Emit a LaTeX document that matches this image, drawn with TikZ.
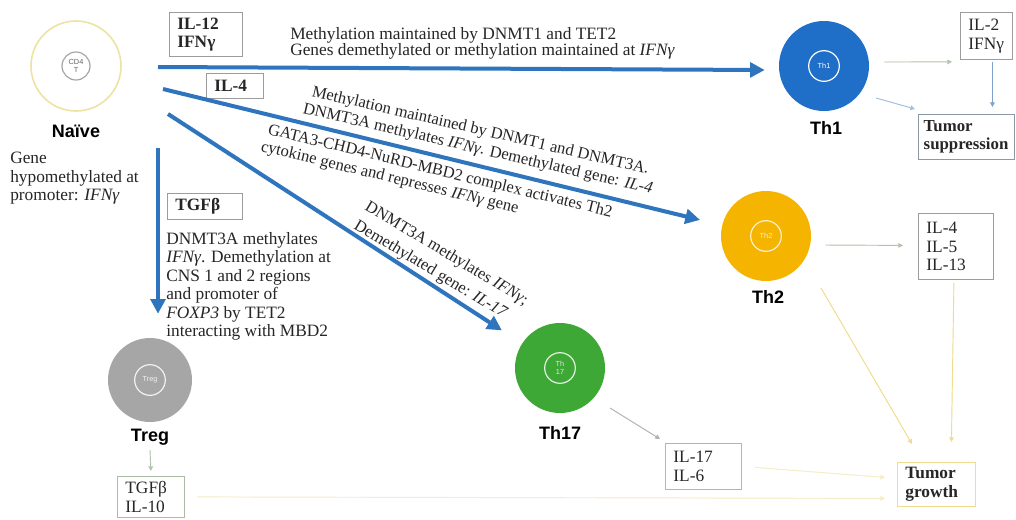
\documentclass[tikz,border=0pt]{standalone}
\usepackage{fontspec}
\setmainfont{Liberation Serif}
\newfontfamily\labfont{Liberation Sans}
\usetikzlibrary{arrows.meta,calc}
\definecolor{arrowblue}{HTML}{2E75BE}
\definecolor{thoneblue}{HTML}{1F6FC8}
\definecolor{thtwo}{HTML}{F5B400}
\definecolor{thseventeen}{HTML}{3DA835}
\definecolor{tregray}{HTML}{A6A6A6}
\definecolor{naiveline}{HTML}{EDE3A3}
\definecolor{thingreen}{HTML}{B3C4AE}
\definecolor{thinblue}{HTML}{7FA3C8}
\definecolor{thinyellow}{HTML}{F0DC8C}
\definecolor{paleyellow}{HTML}{F5EDC8}
\definecolor{boxgray}{HTML}{9C9C9C}
\definecolor{boxgreen}{HTML}{A9BDA5}
\definecolor{suppgray}{HTML}{8A98A8}
\definecolor{txt}{HTML}{262626}
\begin{document}
\begin{tikzpicture}[x=0.75pt,y=-0.75pt,
  cell/.style={circle, inner sep=0pt, minimum size=67.5pt},
  core/.style={circle, draw=white, line width=0.9pt, minimum size=23pt, inner sep=0pt, align=center, text=white, font=\labfont\fontsize{5.5}{6}\selectfont},
  lbl/.style={font=\labfont\bfseries\fontsize{13.5}{15}\selectfont, text=black},
  body/.style={font=\fontsize{13}{13.9}\selectfont, text=txt, align=left, inner sep=0pt},
  rot/.style={font=\fontsize{12.4}{13.9}\selectfont, text=txt, inner sep=0pt, anchor=base west},
  tbox/.style={draw=boxgray, line width=0.6pt, rectangle, anchor=north west, inner xsep=6pt, inner ysep=0pt, align=left, font=\fontsize{13}{13.9}\selectfont, text=txt},
  bold/.style={font=\bfseries\fontsize{13}{13.9}\selectfont},
  big/.style={draw=arrowblue, line width=3pt, -{Triangle[length=11pt,width=11pt]}},
  thin/.style={line width=0.7pt, -{Triangle[length=3.5pt,width=3.5pt]}}
]
\useasboundingbox (0,0) rectangle (1016,519);
\fill[white] (0,0) rectangle (1016,519);

% cells
\node[cell, draw=naiveline, line width=1.2pt, fill=white] (naive) at (76,66) {};
\node[core, draw=gray!70, text=gray!80!black, minimum size=21pt] (naivec) at (naive) {CD4\\T};
\node[cell, fill=thoneblue] (th1) at (824,66) {};
\node[core] (th1c) at (th1) {Th1};
\node[cell, fill=thtwo] (th2) at (766,236) {};
\node[core, draw=white!80!thtwo, text=white!80!thtwo] (th2c) at (th2) {Th2};
\node[cell, fill=thseventeen] (th17) at (560,368) {};
\node[core, draw=white!85!thseventeen, text=white!80!thseventeen] (th17c) at (th17) {Th\\17};
\node[cell, fill=tregray, minimum size=63pt] (treg) at (150,380) {};
\node[core, draw=white!85!tregray, text=white!85!tregray] (tregc) at (treg) {Treg};

% cell labels
\node[lbl] (naivelab) at (76,131) {Naïve};
\node[lbl] (th1lab) at (826,128) {Th1};
\node[lbl] (th2lab) at (768,297) {Th2};
\node[lbl] (th17lab) at (560,433) {Th17};
\node[lbl] (treglab) at (150,437) {Treg};

% boxes
\node[tbox, bold, text width=42.75pt, minimum height=33pt] (b12) at (169,12) {IL-12\\IFNγ};
\node[tbox, bold, text width=30.75pt, minimum height=18.75pt] (b4) at (206,73) {IL-4};
\node[tbox, bold, text width=44.25pt, minimum height=19.5pt] (btgf) at (167,193) {TGFβ};
\node[tbox, text width=27pt, minimum height=35.25pt] (il2) at (960,12) {IL-2\\IFNγ};
\node[tbox, draw=suppgray, inner xsep=4pt, font=\bfseries\fontsize{12.6}{13.9}\selectfont, text width=64pt, minimum height=33.75pt] (ts) at (918,114) {Tumor\\suppression};
\node[tbox, text width=44.25pt, minimum height=49.5pt] (cyt2) at (918,213) {IL-4\\IL-5\\IL-13};
\node[tbox, draw=boxgreen, text width=45pt, minimum height=34.5pt] (il17) at (665,443) {IL-17\\IL-6};
\node[tbox, bold, draw=thinyellow, text width=46.5pt, minimum height=33pt] (tg) at (897,462) {Tumor\\growth};
\node[tbox, draw=boxgreen, text width=38.25pt, minimum height=30.75pt] (tgf2) at (117,476) {TGFβ\\IL-10};

% free text
\node[body, anchor=north west] (genetxt) at (10,152) {Gene\\hypomethylated at\\promoter: \textit{IFNγ}};
\node[body, anchor=north west] (tregtxt) at (166,232) {DNMT3A methylates\\\textit{IFNγ}. Demethylation at\\CNS 1 and 2 regions\\and promoter of\\\textit{FOXP3} by TET2\\interacting with MBD2};
\node[body, font=\fontsize{13}{12.3}\selectfont, anchor=north west] (th1txt) at (290,27) {Methylation maintained by DNMT1 and TET2\\Genes demethylated or methylation maintained at \textit{IFNγ}};

\node[rot, rotate=-13] (t2a) at (311,96) {Methylation maintained by DNMT1 and DNMT3A.};
\node[rot, rotate=-13] (t2b) at (302,113) {DNMT3A methylates \textit{IFNγ}. Demethylated gene: \textit{IL-4}};
\node[rot, rotate=-13.6] (t2c) at (267,134) {GATA3-CHD4-NuRD-MBD2 complex activates Th2};
\node[rot, rotate=-13.6] (t2d) at (260,151) {cytokine genes and represses \textit{IFNγ} gene};
\node[rot, rotate=-31] (t3a) at (364,209) {DNMT3A methylates \textit{IFNγ};};
\node[rot, rotate=-31] (t3b) at (353,228) {Demethylated gene: \textit{IL-17}};

% big blue arrows
\coordinate (s1) at (158,67);
\coordinate (s2) at (163,89);
\coordinate (s3) at (168,114);
\coordinate (s4) at (158,148);
\draw[big] (s1) -- ($(th1.west)+(-14,4)$);
\draw[big, shorten >=17pt] (s2) -- (th2);
\draw[big, shorten >=18pt] (s3) -- (th17);
\draw[big, shorten >=18pt] (s4) -- (s4 |- treg.north);

% thin connectors
\draw[thin, draw=thingreen, fill=thingreen] ($(th1.east)+(15,-4)$) -- ($(il2.west)+(-8,26)$);
\draw[thin, draw=thinblue, fill=thinblue] ($(il2.south)+(6,2)$) -- ($(il2.south |- ts.north)+(6,-7)$);
\draw[thin, draw=thinblue!70, fill=thinblue!70] ($(th1)+(52,32)$) -- ($(ts.north west)+(-3,-5)$);
\draw[thin, draw=thingreen, fill=thingreen] ($(th2.east)+(14,9)$) -- ($(cyt2.west)+(-15,-1)$);
\draw[thin, draw=thinyellow, fill=thinyellow] ($(th2)+(55,52)$) -- ($(tg.north west)+(15,-18)$);
\draw[thin, draw=thinyellow, fill=thinyellow] ($(cyt2.south)+(-2,3)$) -- ($(tg.north)+(15,-20)$);
\draw[thin, draw=gray!60, fill=gray!60] ($(th17)+(50,40)$) -- ($(il17.north west)+(-5,-4)$);
\draw[thin, draw=paleyellow, fill=thinyellow] ($(il17.east)+(13,1)$) -- ($(tg.west)+(-12,-7)$);
\draw[thin, draw=thingreen, fill=thingreen] ($(treg)+(0,70)$) -- ($(tgf2.north)+(0,-5)$);
\draw[thin, draw=paleyellow, fill=thinyellow] ($(tgf2.east)+(12,0)$) -- ($(tg.west)+(-12,14)$);
\end{tikzpicture}
\end{document}
